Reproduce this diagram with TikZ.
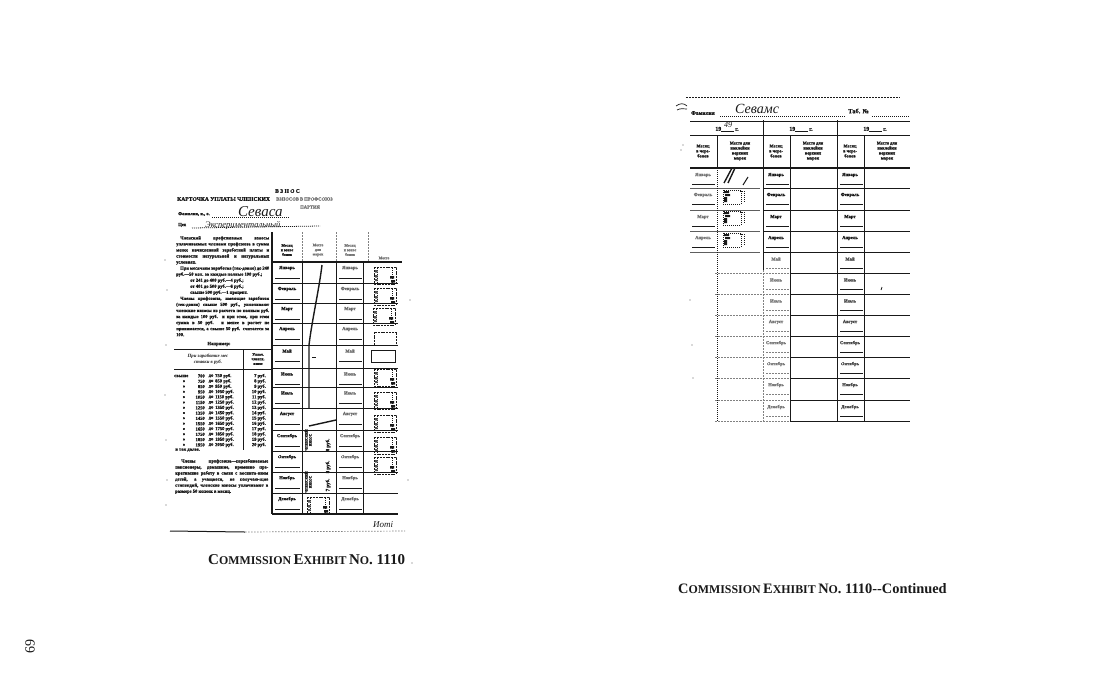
\documentclass[tikz,border=0pt]{standalone}
\usepackage{fontspec}
\setmainfont{Liberation Serif}[BoldFeatures={FakeBold=1.3}]
\newfontfamily\capf{Liberation Serif}
\definecolor{ink}{gray}{0.1}
\tikzset{x=1pt,y=-1pt,
 ln/.style={line width=1pt,draw=ink},
 thk/.style={line width=1.4pt,draw=ink},
 hair/.style={line width=.6pt,draw=ink},
 dotl/.style={line width=.8pt,draw=ink,dash pattern=on 1pt off 1pt},
 fad/.style={line width=.7pt,draw=ink!55,dash pattern=on 1.5pt off 1.5pt},
 tx/.style={inner sep=0pt,text=ink,font=\fontsize{4.6}{5.4}\selectfont\bfseries,align=center},
 body/.style={inner sep=0pt,text=ink,font=\fontsize{4.6}{6.05}\selectfont\bfseries,align=justify,anchor=north west},
 ghost/.style={tx,text=ink!60},
 captxt/.style={inner sep=0pt,anchor=base west,text=ink,font=\capf\bfseries}}
\newcommand{\stamp}[3]{% x y name
 \draw[ln,dash pattern=on 2pt off .8pt] (#1,#2) rectangle ++(22,17);
 \draw[dotl] (#1+3,#2+1) -- ++(0,15) (#1+18,#2+1) -- ++(0,15);
 \fill[ink] (#1+16,#2+9) rectangle ++(4,2.5) (#1+17,#2+13) rectangle ++(4,2.5);
 \fill[ink!75] (#1+1,#2+3) rectangle ++(2.5,2.5) (#1+1,#2+8) rectangle ++(2.5,2.5) (#1+1,#2+12) rectangle ++(2.5,2);}
\newcommand{\rstamp}[2]{%
 \draw[dotl] (#1,#2) rectangle ++(18,14);
 \draw[dotl] (#1+17,#2+1) -- ++(4,0) -- ++(0,12);
 \fill[ink] (#1+1,#2+1) rectangle ++(5,2) (#1+2,#2+4) rectangle ++(5,2) (#1+1,#2+7) rectangle ++(3,5);}
\newcommand{\capw}[2]{{\fontsize{#1}{15}\selectfont C}{\fontsize{#2}{15}\selectfont OMMISSION} {\fontsize{#1}{15}\selectfont E}{\fontsize{#2}{15}\selectfont XHIBIT} {\fontsize{#1}{15}\selectfont N}{\fontsize{#2}{15}\selectfont O}{\fontsize{#1}{15}\selectfont .\ 1110}}
\begin{document}
\begin{tikzpicture}
\useasboundingbox (0,0) rectangle (1094,691);
\fill[white] (0,0) rectangle (1094,691);
%% LEFT CARD
\node[tx,anchor=west,font=\fontsize{5.5}{6}\selectfont\bfseries] (t0) at (275,191) {В З Н О С};
\node[tx,anchor=west,font=\fontsize{5.6}{6}\selectfont\bfseries] (t1) at (177,199) {КАРТОЧКА УПЛАТЫ ЧЛЕНСКИХ};
\node[ghost,anchor=west] (t2) at (276,199) {ВЗНОСОВ В ПРОФСОЮЗ};
\node[ghost,anchor=west] (t3) at (300,207) {ПАРТИЯ};
\node[tx,anchor=west] (f1) at (178,214) {Фамилия, и., о.};
\draw[dotl] (212,217) -- (290,217);
\node[anchor=west,inner sep=0,font=\fontsize{15}{15}\selectfont\itshape,text=ink] (f2) at (238,212) {Cеваса};
\node[tx,anchor=west] (f3) at (178,225) {Цех};
\draw[dotl] (192,228) -- (320,226);
\node[anchor=west,inner sep=0,font=\fontsize{8.5}{9}\selectfont\itshape,text=ink] (f4) at (205,225) {Экспериментальный};
\node[body,text width=93pt] (b1) at (176,236) {\hspace{4pt}Членский профсоюзных взносы уплачиваемые членами профсоюза в сумма менее начисленной заработной платы и стоимости натуральной и натуральных условиях.\par\hspace{4pt}При месячном заработке (тек-довно) до 240 руб.—50 коп. за каждые полные 100 руб.;\par\hspace{14pt}от 241 до 400 руб.—4 руб.;\par\hspace{14pt}от 401 до 500 руб.—6 руб.;\par\hspace{14pt}свыше 500 руб.—1 процент.\par\hspace{4pt}Члены профсоюза, имеющие заработок (тек-довно) свыше 500 руб., уплачивают членские взносы из расчета по полным руб. за каждые 100 руб. и при этом, при этом сумма в 50 руб. и менее в расчет не принимается, а свыше 50 руб. считается за 100.};
\node[tx] (b2) at (219,344) {Например:};
\draw[ln] (174,349) -- (272,349) (174,369) -- (272,369) (243,349) -- (243,450);
\node[tx,font=\fontsize{4.8}{5.6}\selectfont\bfseries\itshape] (b3) at (208,359) {При заработке мес\\ставки в руб.};
\node[tx,font=\fontsize{3.8}{4.6}\selectfont\bfseries] (b4) at (258,359) {Уплач.\\членск.\\взнос};
\foreach \i/\aa/\bb/\cc in {0/700/750/7,1/750/850/8,2/850/950/9,3/950/1050/10,4/1050/1150/11,5/1150/1250/12,6/1250/1350/13,7/1350/1450/14,8/1450/1550/15,9/1550/1650/16,10/1650/1750/17,11/1750/1850/18,12/1850/1950/19,13/1950/2050/20}{
  \node[tx,anchor=east] at (205,376+5.3*\i) {\aa};
  \node[tx] at (211,376+5.3*\i) {до};
  \node[tx,anchor=west] at (215,376+5.3*\i) {\bb\ руб.};
  \node[tx,anchor=east] at (266,376+5.3*\i) {\cc\ руб.};
  \ifnum\i>0 \node[tx] at (184,376+5.3*\i) {»};\fi
}
\node[tx,anchor=west] (b5) at (174,376) {свыше};
\node[tx,anchor=west] (b7) at (175,450) {и так далее.};
\node[body,text width=93pt] (b8) at (175,459) {\hspace{6pt}Члены профсоюза—перевбиваемые пенсионеры, домашние, временно пре-кратившие работу в связи с воспита-нием детей, а учащиеся, не получаю-щие стипендий, членские взносы уплачивают в размере 50 копеек в месяц.};
\draw[ln] (170,531) -- (245,532);
\draw[fad] (245,532) -- (405,531);
\node[anchor=west,inner sep=0,font=\fontsize{9}{9}\selectfont\itshape,text=ink] (s1) at (373,525) {Иоті};
% table
\draw[thk] (272,232) -- (272,514);
\draw[ln] (302,262) -- (302,514) (336,262) -- (336,514);
\draw[fad] (302,232) -- (302,262) (336,232) -- (336,262) (368,232) -- (368,262);
\draw[ln] (363,262) -- (363,514);
\draw[thk] (272,262) -- (402,262) (272,514) -- (398,514);
\foreach \yy in {283,303,323,345,368,387,408,430,451,472,493}
  \draw[ln] (272,\yy) -- (398,\yy);
\foreach \yy/\mm in {262/Январь,283/Февраль,303/Март,323/Апрель,345/Май,368/Июнь,387/Июль,408/Август,430/Сентябрь,451/Октябрь,472/Ноябрь,493/Декабрь}{
  \node[tx,font=\fontsize{4.6}{5}\selectfont\bfseries] at (287,\yy+6) {\mm};
  \node[tx,font=\fontsize{4.6}{5}\selectfont\bfseries,text=ink!65] at (350,\yy+6) {\mm};
  \draw[ln] (275,\yy+16) -- (300,\yy+16) (339,\yy+16) -- (362,\yy+16);
}
\node[tx,font=\fontsize{3.8}{4.6}\selectfont\bfseries] (h1) at (287,250) {Месяц\\и взнос\\бонов};
\node[ghost,font=\fontsize{3.8}{4.6}\selectfont\bfseries] (h2) at (318,250) {Место\\для\\марок};
\node[ghost,font=\fontsize{3.8}{4.6}\selectfont\bfseries] (h3) at (350,250) {Месяц\\и взнос\\бонов};
\node[ghost,font=\fontsize{3.8}{4.6}\selectfont\bfseries] (h4) at (384,258) {Место};
% tick mark stroke
\draw[thk] (322,265) .. controls (319,290) and (312,320) .. (309,345) -- (309,408);
\draw[thk] (309,426) -- (336,420);
\fill[ink] (312,357) rectangle ++(4,1);
\node[tx,rotate=90,font=\fontsize{3.6}{4}\selectfont\bfseries] (v1) at (308,440) {ЧЛЕНСКИЙ\\ВЗНОС};
\node[tx,rotate=90,font=\fontsize{3.6}{4}\selectfont\bfseries] (v2) at (308,482) {ЧЛЕНСКИЙ\\ВЗНОС};
\node[tx,rotate=90,font=\fontsize{5}{5}\selectfont\bfseries] (v3) at (328,445) {8 руб.};
\node[tx,rotate=90,font=\fontsize{5}{5}\selectfont\bfseries] (v4) at (328,467) {8 руб.};
\node[tx,rotate=90,font=\fontsize{5}{5}\selectfont\bfseries] (v5) at (328,485) {7 руб.};
\stamp{374}{267}{a}\stamp{374}{288}{b}\stamp{373}{308}{c}
\draw[ln,dash pattern=on 2pt off .8pt] (374,345) -- (374,332) -- (396,332) -- (396,345);
\draw[ln] (371,350) rectangle (395,362);
\foreach \yy in {369,392,415,437,457} {\stamp{374}{\yy}{d}}
\stamp{307}{497}{e}
%% RIGHT CARD
\draw[fad,draw=ink] (686,97) -- (900,97);
\node[tx,anchor=west,font=\fontsize{5.5}{6}\selectfont\bfseries] (r1) at (691,113) {Фамилия};
\draw[dotl] (720,116) -- (845,116);
\node[anchor=west,inner sep=0,font=\fontsize{14}{14}\selectfont\itshape,text=ink] (r2) at (735,109) {Севамс};
\node[tx,anchor=west,font=\fontsize{6.4}{6}\selectfont\bfseries] (r3) at (848,111) {Таб. №};
\draw[dotl] (872,116) -- (910,116);
\draw[ln] (690,121) -- (910,121);
\draw[ln] (690,135) -- (910,135);
\draw[ln,line width=1.3pt] (690,168) -- (910,168);
\draw[ln] (763,120) -- (763,168) (837,120) -- (837,168);
\draw[hair] (717,135) -- (717,168) (790,135) -- (790,168) (864,135) -- (864,168);
\node[tx,font=\fontsize{5.8}{6}\selectfont\bfseries] (y1) at (727,129) {19\rule[-.4pt]{13pt}{.5pt}\,г.};
\node[tx,font=\fontsize{5.8}{6}\selectfont\bfseries] (y2) at (801,129) {19\rule[-.4pt]{13pt}{.5pt}\,г.};
\node[tx,font=\fontsize{5.8}{6}\selectfont\bfseries] (y3) at (875,129) {19\rule[-.4pt]{13pt}{.5pt}\,г.};
\node[anchor=west,inner sep=0,font=\fontsize{8}{8}\selectfont\itshape,text=ink] (y4) at (724,125) {49};
\foreach \xx in {703,776,850}{
  \node[tx,font=\fontsize{4.4}{5}\selectfont\bfseries] at (\xx,151) {Месяц\\в чере-\\бонов};
}
\foreach \pp in {740,813,887}{
  \node[tx,font=\fontsize{4.4}{5}\selectfont\bfseries] at (\pp,151) {Место для\\наклейки\\верхних\\марок};
}
% rows: solid right, faded left
\foreach \yy in {188,210,231,252}{
  \draw[ln] (763,\yy) -- (910,\yy);
  \draw[ln,draw=ink!70] (690,\yy) -- (760,\yy);
}
\foreach \yy in {273,294,315,336,357,378,400,421}{
  \draw[ln] (790,\yy) -- (910,\yy);
  \draw[fad] (715,\yy) -- (790,\yy);
}
\draw[dotl] (717,168) -- (717,421);
\draw[ln] (763,168) -- (763,270);
\draw[fad] (763,270) -- (763,421);
\draw[ln] (790,168) -- (790,421);
\draw[ln] (837,168) -- (837,421);
\draw[ln] (864,168) -- (864,421);
\foreach \yy/\mm in {168/Январь,188/Февраль,210/Март,231/Апрель}{
  \node[tx,font=\fontsize{4.6}{5}\selectfont\bfseries] at (776,\yy+7) {\mm};
  \node[tx,font=\fontsize{4.6}{5}\selectfont\bfseries] at (850,\yy+7) {\mm};
  \draw[hair] (840,\yy+16) -- (863,\yy+16);
}
\foreach \yy/\mm in {252/Май,273/Июнь,294/Июль,315/Август,336/Сентябрь,357/Октябрь,378/Ноябрь,400/Декабрь}{
  \node[ghost,font=\fontsize{4.6}{5}\selectfont\bfseries] at (776,\yy+7) {\mm};
  \node[tx,text=ink!80,font=\fontsize{4.6}{5}\selectfont\bfseries] at (850,\yy+7) {\mm};
  \draw[hair] (840,\yy+16) -- (863,\yy+16);
  \draw[fad] (766,\yy+16) -- (789,\yy+16);
}
\foreach \yy/\mm in {168/Январь,188/Февраль,210/Март,231/Апрель}{
  \node[ghost,font=\fontsize{4.6}{5}\selectfont\bfseries] at (703,\yy+7) {\mm};
  \draw[hair] (692,\yy+16) -- (715,\yy+16);
  \draw[hair] (766,\yy+16) -- (789,\yy+16);
}
\draw[thk] (724,183) -- (732,168) (728,183) -- (735,168);
\draw[ln] (743,185) -- (748,177);
\rstamp{723}{190}\rstamp{723}{211}\rstamp{723}{233}
%% other marks
\draw[ink,line width=.7pt] (676,106) .. controls (680,103) and (684,103) .. (687,106);
\draw[ink,line width=.7pt] (677,110) .. controls (680,108) and (684,109) .. (687,109);
\draw[ink,line width=.8pt] (881,290) -- (882,287);
\foreach \dx/\dy in {165/260,167/290,166/345,165/395,166/440,167/480,166/505,410/300,408/480,412/563,683/145,681/150,690/300,692/345,693/378}
  \fill[ink!70] (\dx,\dy) circle (.6);
%% captions
\node[captxt] (c1) at (208,564) {\capw{15}{11.9}};
\node[captxt] (c2) at (678,593) {\capw{14.4}{11.9}{\fontsize{14.4}{15}\selectfont--Continued}};
\node[inner sep=0,rotate=90,text=ink,font=\fontsize{14}{14}\selectfont] (p) at (30,646) {69};
\end{tikzpicture}
\end{document}
